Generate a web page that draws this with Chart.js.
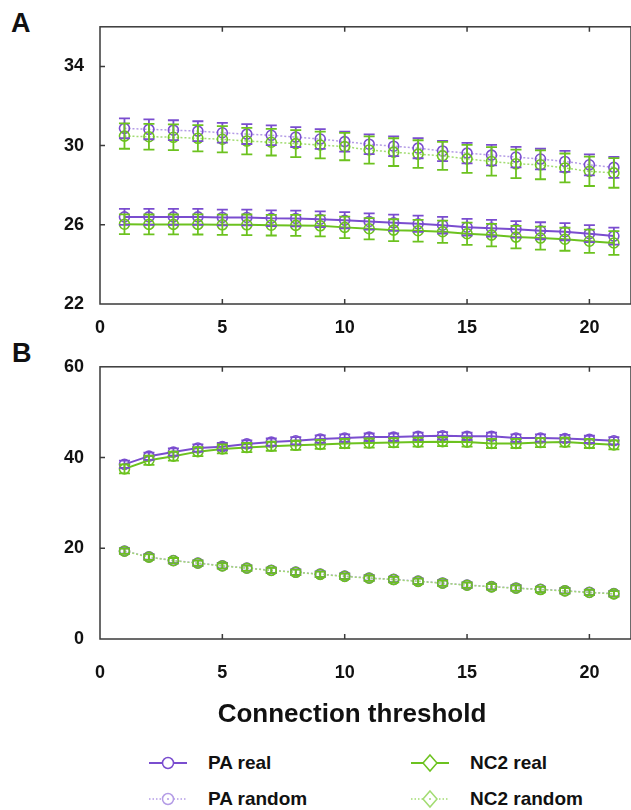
<!DOCTYPE html>
<html>
<head>
<meta charset="utf-8">
<script src="https://cdn.jsdelivr.net/npm/chart.js@4.4.1/dist/chart.umd.min.js"></script>
<style>
  html, body { margin: 0; padding: 0; background: #fff; overflow: hidden; width: 631px; height: 810px; }
  body { position: relative; font-family: "Liberation Sans", Arial, sans-serif; }
  .cv { position: absolute; left: 0; }
  .lbl { position: absolute; font-weight: bold; color: #111; }
  .leg { position: absolute; display: flex; align-items: center; font-weight: bold; font-size: 19px; color: #111; height: 24px; }
  .leg svg { margin-right: 20px; }
</style>
</head>
<body>
<div class="lbl" style="left:11px;top:8px;font-size:27px;">A</div>
<div class="lbl" style="left:12px;top:338px;font-size:27px;">B</div>
<canvas id="cA" class="cv" style="top:0px;" width="640" height="345"></canvas>
<canvas id="cB" class="cv" style="top:340px;" width="640" height="345"></canvas>
<div class="lbl" style="left:0;width:704px;text-align:center;top:698px;font-size:26px;">Connection threshold</div>
<div id="legend"></div>
<script>
const thresholds = [1,2,3,4,5,6,7,8,9,10,11,12,13,14,15,16,17,18,19,20,21];
const xTicks = [0,5,10,15,20];
const yTicksA = [22,26,30,34];
const yTicksB = [0,20,40,60];

// Panel A
const paRealA      = [26.40,26.40,26.40,26.40,26.37,26.37,26.33,26.32,26.28,26.23,26.17,26.10,26.05,25.98,25.88,25.83,25.77,25.70,25.65,25.55,25.43];
const paRealAErr   = [0.40,0.40,0.40,0.40,0.40,0.40,0.40,0.40,0.40,0.41,0.41,0.41,0.41,0.42,0.42,0.42,0.42,0.43,0.43,0.43,0.43];
const paRandA      = [30.87,30.82,30.78,30.73,30.65,30.58,30.52,30.43,30.33,30.20,30.07,29.97,29.87,29.73,29.62,29.52,29.42,29.32,29.20,29.03,28.90];
const paRandAErr   = [0.50,0.50,0.50,0.50,0.50,0.50,0.50,0.50,0.50,0.50,0.50,0.50,0.51,0.51,0.52,0.52,0.52,0.52,0.53,0.53,0.53];
const nc2RealA     = [26.03,26.02,26.02,26.02,26.00,26.00,25.98,25.97,25.95,25.87,25.80,25.73,25.70,25.65,25.55,25.48,25.38,25.33,25.27,25.17,25.08];
const nc2RealAErr  = [0.50,0.50,0.50,0.51,0.51,0.52,0.52,0.53,0.53,0.54,0.54,0.55,0.55,0.56,0.56,0.57,0.57,0.58,0.58,0.59,0.60];
const nc2RandA     = [30.48,30.45,30.42,30.37,30.32,30.23,30.17,30.10,30.03,29.95,29.78,29.67,29.57,29.48,29.33,29.20,29.08,29.03,28.87,28.70,28.62];
const nc2RandAErr  = [0.64,0.65,0.65,0.66,0.66,0.67,0.67,0.68,0.68,0.69,0.69,0.70,0.70,0.71,0.71,0.72,0.72,0.73,0.73,0.74,0.75];

// Panel B
const paRealB      = [38.5,40.3,41.2,42.1,42.4,43.0,43.4,43.7,44.1,44.3,44.5,44.5,44.7,44.8,44.7,44.7,44.3,44.3,44.2,44.0,43.7];
const paRealBErr   = [0.8,0.8,0.8,0.8,0.8,0.8,0.8,0.8,0.8,0.8,0.8,0.8,0.8,0.8,0.8,0.8,0.8,0.8,0.8,0.8,0.8];
const paRandB      = [19.40,18.10,17.30,16.75,16.15,15.65,15.15,14.75,14.30,13.85,13.45,13.15,12.75,12.35,11.90,11.55,11.25,10.95,10.65,10.30,10.00];
const paRandBErr   = [0.6,0.6,0.6,0.6,0.6,0.6,0.6,0.6,0.6,0.6,0.6,0.6,0.6,0.6,0.6,0.6,0.6,0.6,0.6,0.6,0.6];
const nc2RealB     = [37.5,39.4,40.3,41.3,41.9,42.2,42.5,42.7,42.9,43.1,43.2,43.3,43.4,43.5,43.4,43.1,43.1,43.3,43.4,43.1,42.8];
const nc2RealBErr  = [1.0,1.0,1.0,1.0,1.0,1.0,1.0,1.0,1.0,1.0,1.0,1.0,1.0,1.0,1.0,1.0,1.0,1.0,1.0,1.0,1.0];
const nc2RandB     = [19.35,18.05,17.25,16.70,16.10,15.60,15.10,14.70,14.25,13.80,13.40,13.10,12.70,12.30,11.85,11.50,11.20,10.90,10.60,10.25,9.95];
const nc2RandBErr  = [0.6,0.6,0.6,0.6,0.6,0.6,0.6,0.6,0.6,0.6,0.6,0.6,0.6,0.6,0.6,0.6,0.6,0.6,0.6,0.6,0.6];

const PURPLE = '#7a4dcf';
const PURPLE_L = '#b49ce6';
const GREEN = '#6cc21f';
const GREEN_L = '#a2dc72';
const FONT = '"Liberation Sans", Arial, sans-serif';

function pts(vals, errs) {
  return thresholds.map((t, i) => ({ x: t, y: vals[i], e: errs[i] }));
}

function ds(label, vals, errs, color, lineColor, dashed, order) {
  return {
    label, data: pts(vals, errs), order,
    borderColor: lineColor, borderWidth: dashed ? 1.5 : 2,
    borderDash: dashed ? [2, 2] : [],
    pointStyle: 'circle', pointRadius: 5, pointBorderWidth: 1.6,
    pointBorderColor: color, pointBackgroundColor: 'rgba(255,255,255,0)',
    errColor: color, tension: 0, fill: false
  };
}

const errorBars = {
  id: 'errorBars',
  afterDatasetsDraw(chart) {
    const ctx = chart.ctx;
    const ys = chart.scales.y;
    const idx = chart.data.datasets.map((d, i) => i).sort((a, b) => chart.data.datasets[b].order - chart.data.datasets[a].order);
    ctx.save();
    idx.forEach(i => {
      const d = chart.data.datasets[i];
      const meta = chart.getDatasetMeta(i);
      ctx.strokeStyle = d.errColor;
      ctx.lineWidth = 1.8;
      meta.data.forEach((el, j) => {
        const p = d.data[j];
        const x = el.x;
        const y1 = ys.getPixelForValue(p.y + p.e);
        const y2 = ys.getPixelForValue(p.y - p.e);
        ctx.beginPath();
        ctx.moveTo(x, y1); ctx.lineTo(x, y2);
        ctx.moveTo(x - 5.5, y1); ctx.lineTo(x + 5.5, y1);
        ctx.moveTo(x - 5.5, y2); ctx.lineTo(x + 5.5, y2);
        ctx.stroke();
      });
    });
    ctx.restore();
  }
};

const frame = {
  id: 'frame',
  afterDraw(chart) {
    const { ctx, chartArea: a } = chart;
    const xs = chart.scales.x, ys = chart.scales.y;
    ctx.save();
    ctx.strokeStyle = '#3a3a3a';
    ctx.lineWidth = 1.5;
    ctx.strokeRect(a.left, a.top, a.right - a.left, a.bottom - a.top);
    ctx.beginPath();
    xTicks.forEach(v => {
      if (v === 0) return;
      const x = xs.getPixelForValue(v);
      ctx.moveTo(x, a.top); ctx.lineTo(x, a.top + 5);
      ctx.moveTo(x, a.bottom); ctx.lineTo(x, a.bottom - 5);
    });
    ys.ticks.forEach(t => {
      const y = ys.getPixelForValue(t.value);
      if (Math.abs(y - a.top) < 1 || Math.abs(y - a.bottom) < 1) return;
      ctx.moveTo(a.left, y); ctx.lineTo(a.left + 5, y);
    });
    ctx.stroke();
    ctx.restore();
  }
};

function makeChart(id, datasets, yMin, yMax, yTicks, padTop, xHeight, xPad) {
  return new Chart(document.getElementById(id), {
    type: 'line',
    data: { datasets },
    plugins: [errorBars, frame],
    options: {
      responsive: false, animation: false,
      layout: { padding: { top: padTop, right: 9, left: 0, bottom: 0 } },
      plugins: { legend: { display: false }, tooltip: { enabled: false } },
      scales: {
        x: {
          type: 'linear', min: 0, max: 21.7,
          afterBuildTicks: s => { s.ticks = xTicks.map(v => ({ value: v })); },
          afterFit: s => { s.height = xHeight; },
          grid: { display: false, drawTicks: false },
          border: { display: false },
          ticks: { padding: xPad, color: '#111', font: { family: FONT, size: 18, weight: 'bold' }, maxRotation: 0 }
        },
        y: {
          min: yMin, max: yMax,
          afterBuildTicks: s => { s.ticks = yTicks.map(v => ({ value: v })); },
          afterFit: s => { s.width = 100; },
          grid: { display: false, drawTicks: false },
          border: { display: false },
          ticks: { padding: 16, color: '#111', font: { family: FONT, size: 18, weight: 'bold' } }
        }
      }
    }
  });
}

makeChart('cA', [
  ds('PA real', paRealA, paRealAErr, PURPLE, PURPLE, false, 3),
  ds('PA random', paRandA, paRandAErr, PURPLE, PURPLE_L, true, 2),
  ds('NC2 real', nc2RealA, nc2RealAErr, GREEN, GREEN, false, 1),
  ds('NC2 random', nc2RandA, nc2RandAErr, GREEN, GREEN_L, true, 0)
], 22, 36, yTicksA, 24, 41, 13);

makeChart('cB', [
  ds('PA real', paRealB, paRealBErr, PURPLE, PURPLE, false, 3),
  ds('PA random', paRandB, paRandBErr, PURPLE, PURPLE_L, true, 2),
  ds('NC2 real', nc2RealB, nc2RealBErr, GREEN, GREEN, false, 1),
  ds('NC2 random', nc2RandB, nc2RandBErr, GREEN, GREEN_L, true, 0)
], 0, 60, yTicksB, 22, 46, 23);

// Legend
const legendItems = [
  { label: 'PA real', color: PURPLE, line: PURPLE, dash: false, marker: 'circle', left: 148, top: 751 },
  { label: 'PA random', color: PURPLE_L, line: PURPLE_L, dash: true, marker: 'circle', left: 148, top: 787 },
  { label: 'NC2 real', color: GREEN, line: GREEN, dash: false, marker: 'diamond', left: 410, top: 751 },
  { label: 'NC2 random', color: GREEN_L, line: GREEN_L, dash: true, marker: 'diamond', left: 410, top: 787 }
];
const legend = document.getElementById('legend');
legendItems.forEach(it => {
  const div = document.createElement('div');
  div.className = 'leg';
  div.style.left = it.left + 'px';
  div.style.top = it.top + 'px';
  const dash = it.dash ? 'stroke-dasharray="1.5,2"' : '';
  const mk = it.marker === 'circle'
    ? `<circle cx="20" cy="12" r="5.5" fill="#fff" stroke="${it.color}" stroke-width="1.5"/>` + (it.dash ? `<circle cx="20" cy="12" r="1" fill="${it.color}"/>` : '')
    : `<polygon points="20,4 27,12 20,20 13,12" fill="#fff" stroke="${it.color}" stroke-width="1.5"/>` + (it.dash ? `<circle cx="20" cy="12" r="1" fill="${it.color}"/>` : '');
  div.innerHTML = `<svg width="40" height="24"><line x1="1" y1="12" x2="39" y2="12" stroke="${it.line}" stroke-width="${it.dash ? 1.5 : 2.2}" ${dash}/>${mk}</svg><span>${it.label}</span>`;
  legend.appendChild(div);
});
</script>
</body>
</html>
